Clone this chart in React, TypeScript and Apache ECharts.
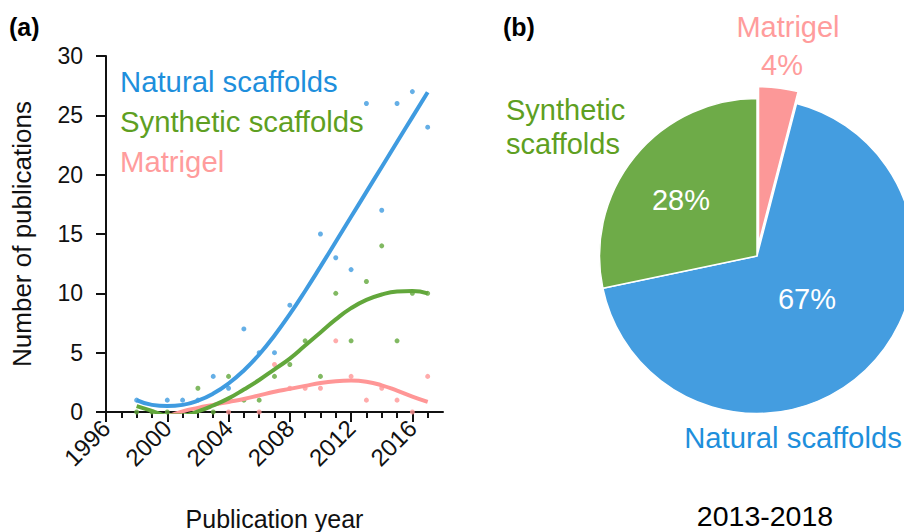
import React, { useEffect, useRef } from "react";
import * as echarts from "echarts";

const FONT = "'Liberation Sans', Arial, Helvetica, sans-serif";

// Panel (a) scatter data: [year, publications]
const naturalPoints = [
  [1998, 1], [2000, 1], [2001, 1], [2002, 1], [2003, 3], [2004, 2], [2005, 7],
  [2006, 5], [2007, 5], [2008, 9], [2010, 15], [2011, 13], [2012, 12],
  [2013, 26], [2014, 17], [2015, 26], [2016, 27], [2017, 24],
];
const syntheticPoints = [
  [1998, 0], [1999, 0], [2000, 0], [2002, 2], [2003, 0], [2004, 3], [2005, 1],
  [2006, 1], [2007, 3], [2008, 4], [2009, 6], [2010, 3], [2011, 10], [2012, 6],
  [2013, 11], [2014, 14], [2015, 6], [2016, 10], [2017, 10],
];
const matrigelPoints = [
  [2004, 0], [2006, 0], [2007, 4], [2008, 2], [2009, 2], [2010, 2], [2011, 6],
  [2012, 3], [2013, 1], [2014, 2], [2015, 1], [2016, 0], [2017, 3],
];

// Trend curves (values per year)
const fitYears = [1998, 1999, 2000, 2001, 2002, 2003, 2004, 2005, 2006, 2007, 2008, 2009, 2010, 2011, 2012, 2013, 2014, 2015, 2016, 2017];
const naturalFit = [1.0, 0.6, 0.5, 0.6, 0.95, 1.55, 2.4, 3.5, 4.85, 6.45, 8.25, 10.2, 12.25, 14.35, 16.45, 18.55, 20.65, 22.75, 24.85, 26.95];
const syntheticFit = [0.5, 0.1, -0.3, -0.3, 0.05, 0.55, 1.15, 1.9, 2.7, 3.6, 4.5, 5.6, 6.7, 7.8, 8.75, 9.45, 9.9, 10.15, 10.2, 10.0];
const matrigelFitYears = [2000, 2001, 2002, 2003, 2004, 2005, 2006, 2007, 2008, 2009, 2010, 2011, 2012, 2013, 2014, 2015, 2016, 2017];
const matrigelFit = [-0.4, 0.05, 0.35, 0.6, 0.85, 1.1, 1.4, 1.7, 1.95, 2.2, 2.45, 2.6, 2.65, 2.55, 2.25, 1.8, 1.3, 0.85];

const seriesNames = ["Natural scaffolds", "Synthetic scaffolds", "Matrigel"];
const xTickValues = [1996, 2000, 2004, 2008, 2012, 2016];

// Panel (b) pie
const pieNames = ["Matrigel", "Natural scaffolds", "Synthetic scaffolds"];
const pieValues = [4, 67, 28];
const pieSubtitle = "2013-2018";

const TEXT_BLUE = "#1E8FDC";
const TEXT_GREEN = "#5E9F22";
const TEXT_PINK = "#FF9C9C";
const LINE_BLUE = "#3F9BE0";
const LINE_GREEN = "#62A73B";
const LINE_PINK = "#FF9696";
const PIE_BLUE = "#449DE0";
const PIE_GREEN = "#6EAB48";
const PIE_PINK = "#FC9898";
const AX = "#111111";

export default function App() {
  const ref = useRef<HTMLDivElement>(null);
  useEffect(() => {
    if (!ref.current) return;
    const chart = echarts.init(ref.current, undefined, { renderer: "svg" });
    const pair = (xs: number[], ys: number[]) => xs.map((x, i) => [x, ys[i]]);
    const pct = (v: number) => v + "%";
    const txt = (text: string, x: number, y: number, fill: string, size: number, align = "left", weight = "normal") => ({
      type: "text",
      x,
      y,
      z: 100,
      silent: true,
      style: { text, fill, fontSize: size, fontFamily: FONT, fontWeight: weight, align, verticalAlign: "middle", lineHeight: Math.round(size * 0.9) },
    });
    const option: any = {
      animation: false,
      backgroundColor: "#ffffff",
      textStyle: { fontFamily: FONT },
      grid: { left: 106, top: 56, width: 337, height: 356, containLabel: false, outerBoundsMode: "none" },
      xAxis: {
        type: "value",
        min: 1996,
        max: 2018,
        interval: 4,
        name: "Publication year",
        nameLocation: "middle",
        nameGap: 96,
        nameTextStyle: { fontSize: 25, color: AX, fontFamily: FONT, lineHeight: 22 },
        axisLine: { show: true, onZero: false, lineStyle: { color: AX, width: 2 } },
        axisTick: { show: true, length: 10, customValues: xTickValues, lineStyle: { color: AX, width: 2 } },
        minorTick: { show: true, splitNumber: 4, length: 6, lineStyle: { color: AX, width: 2 } },
        splitLine: { show: false },
        axisLabel: {
          rotate: 45,
          fontSize: 24,
          color: AX,
          margin: 12,
          fontFamily: FONT,
          customValues: xTickValues,
          formatter: (v: number) => String(v),
        },
      },
      yAxis: {
        type: "value",
        min: 0,
        max: 30,
        interval: 5,
        name: "Number of publications",
        nameLocation: "middle",
        nameGap: 71,
        nameTextStyle: { fontSize: 26, color: AX, fontFamily: FONT },
        axisLine: { show: true, lineStyle: { color: AX, width: 2 } },
        axisTick: { show: true, length: 10, lineStyle: { color: AX, width: 2 } },
        splitLine: { show: false },
        axisLabel: { fontSize: 23, color: AX, margin: 23, fontFamily: FONT },
      },
      series: [
        { name: seriesNames[0], type: "scatter", data: naturalPoints, symbolSize: 5, clip: false, itemStyle: { color: LINE_BLUE }, z: 2, silent: true },
        { name: seriesNames[1], type: "scatter", data: syntheticPoints, symbolSize: 5, clip: false, itemStyle: { color: LINE_GREEN }, z: 2, silent: true },
        { name: seriesNames[2], type: "scatter", data: matrigelPoints, symbolSize: 5, clip: false, itemStyle: { color: LINE_PINK }, z: 2, silent: true },
        { name: seriesNames[2] + " fit", type: "line", data: pair(matrigelFitYears, matrigelFit), smooth: true, showSymbol: false, lineStyle: { color: LINE_PINK, width: 4 }, z: 3, silent: true },
        { name: seriesNames[1] + " fit", type: "line", data: pair(fitYears, syntheticFit), smooth: true, showSymbol: false, lineStyle: { color: LINE_GREEN, width: 4 }, z: 3, silent: true },
        { name: seriesNames[0] + " fit", type: "line", data: pair(fitYears, naturalFit), smooth: true, showSymbol: false, lineStyle: { color: LINE_BLUE, width: 4 }, z: 3, silent: true },
        {
          type: "pie",
          center: [757, 256],
          radius: 157.5,
          startAngle: 90,
          clockwise: true,
          selectedMode: "single",
          selectedOffset: 12,
          silent: true,
          z: 1,
          label: { show: false },
          labelLine: { show: false },
          emphasis: { disabled: true },
          itemStyle: { borderColor: "#ffffff", borderWidth: 1.5 },
          data: [
            { name: pieNames[0], value: pieValues[0], selected: true, itemStyle: { color: PIE_PINK } },
            { name: pieNames[1], value: pieValues[1], itemStyle: { color: PIE_BLUE } },
            { name: pieNames[2], value: pieValues[2], itemStyle: { color: PIE_GREEN } },
          ],
        },
      ],
      graphic: {
        elements: [
          txt("(a)", 9, 27, "#000", 25, "left", "bold"),
          txt("(b)", 503, 27, "#000", 25, "left", "bold"),
          txt(seriesNames[0], 120, 81, TEXT_BLUE, 29.3),
          txt(seriesNames[1], 120, 121, TEXT_GREEN, 29.3),
          txt(seriesNames[2], 120, 161, TEXT_PINK, 29.3),
          txt(pieNames[0], 788, 27, TEXT_PINK, 29, "center"),
          txt(pct(pieValues[0]), 782, 65, TEXT_PINK, 29, "center"),
          txt("Synthetic", 506, 110, TEXT_GREEN, 29),
          txt("scaffolds", 506, 144, TEXT_GREEN, 29),
          txt(pct(pieValues[2]), 681, 200, "#ffffff", 29, "center"),
          txt(pct(pieValues[1]), 807, 299, "#ffffff", 29, "center"),
          txt(pieNames[1], 793, 437, TEXT_BLUE, 29.3, "center"),
          txt(pieSubtitle, 765, 516, "#000", 28.5, "center"),
        ],
      },
    };
    chart.setOption(option);
    return () => chart.dispose();
  }, []);
  return (
    <div
      ref={ref}
      style={{ position: "fixed", left: 0, top: 0, width: 904, height: 532, background: "#fff" }}
    />
  );
}
